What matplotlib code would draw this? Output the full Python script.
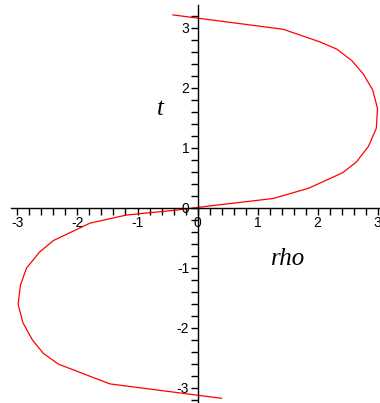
import matplotlib.pyplot as plt
from matplotlib.ticker import FixedLocator

# curve vertices (rho, t), bottom to top
rho = [0.40, -1.46, -2.32, -2.57, -2.75, -2.91, -2.99, -2.95, -2.85, -2.63,
       -2.40, -1.79, -1.18, -0.32, 0.0, 0.32, 1.26, 1.85, 2.42, 2.65, 2.85,
       2.98, 3.00, 2.92, 2.76, 2.57, 2.32, 2.04, 1.43, -0.41]
t = [-3.18, -2.94, -2.61, -2.43, -2.21, -1.92, -1.61, -1.29, -1.01, -0.74,
     -0.55, -0.26, -0.125, -0.04, 0.0, 0.04, 0.15, 0.32, 0.58, 0.76, 1.02,
     1.32, 1.65, 1.96, 2.23, 2.45, 2.64, 2.76, 2.97, 3.21]

x_ticks = [-3, -2, -1, 0, 1, 2, 3]
y_ticks = [-3, -2, -1, 0, 1, 2, 3]

fig = plt.figure(figsize=(3.8, 4.03), dpi=100)
ax = fig.add_axes([0, 0, 1, 1])
ax.plot(rho, t, color='red', lw=0.9)

ax.set_xlim(-197.5 / 60, (380 - 197.5) / 60)
ax.set_ylim(-(403 - 207.5) / 60, 207.5 / 60)

for s in ['top', 'right']:
    ax.spines[s].set_visible(False)
ax.spines['left'].set_position(('data', 0))
ax.spines['bottom'].set_position(('data', 0))
ax.spines['left'].set_bounds(-3.26, 3.38)
ax.spines['bottom'].set_bounds(-3.1, 3.04)
for s in ['left', 'bottom']:
    ax.spines[s].set_linewidth(1.0)

ax.xaxis.set_major_locator(FixedLocator(x_ticks))
ax.yaxis.set_major_locator(FixedLocator(y_ticks))
ax.xaxis.set_minor_locator(FixedLocator([i * 0.2 for i in range(-15, 16)]))
ax.yaxis.set_minor_locator(FixedLocator([i * 0.2 for i in range(-16, 17)]))
ax.tick_params(which='both', direction='out', length=5, width=1.0,
               labelsize=10, pad=1)
ax.set_xticklabels([str(v) for v in x_ticks], family='Liberation Sans')
ax.set_yticklabels([str(v) for v in y_ticks], family='Liberation Sans')

# axis titles placed in pixel coordinates (origin bottom-left)
ax.text(160, 403 - 109, 't', transform=None, fontsize=18,
        family='Liberation Serif', style='italic', ha='center', va='center')
ax.text(288, 403 - 259, 'rho', transform=None, fontsize=18,
        family='Liberation Serif', style='italic', ha='center', va='center')

fig.savefig('out.png', dpi=100)
